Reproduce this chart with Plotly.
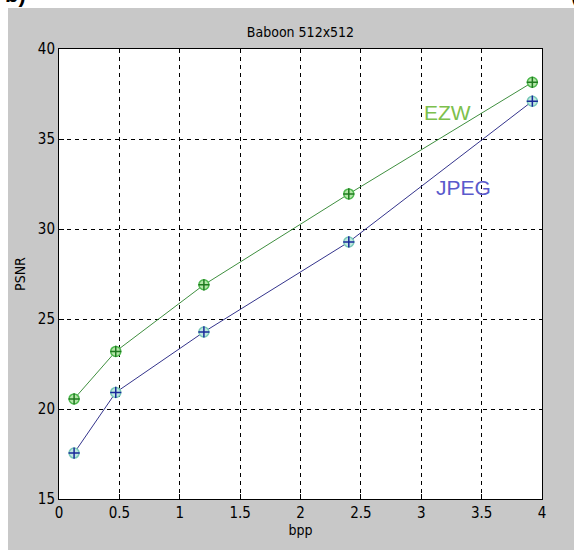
import plotly.graph_objects as go

bpp = [0.125, 0.47, 1.2, 2.4, 3.92]
ezw = [20.56, 23.2, 26.9, 31.95, 38.15]
jpeg = [17.55, 20.92, 24.28, 29.28, 37.1]
x_ticks = [0, 0.5, 1, 1.5, 2, 2.5, 3, 3.5, 4]
x_tick_text = ["0", "0.5", "1", "1.5", "2", "2.5", "3", "3.5", "4"]
y_ticks = [15, 20, 25, 30, 35, 40]

FONT = "Liberation Sans Narrow, DejaVu Sans Condensed, Arial Narrow, sans-serif"

fig = go.Figure()
# EZW
fig.add_trace(go.Scatter(x=bpp, y=ezw, mode="lines", line=dict(color="#3f8f3f", width=1)))
fig.add_trace(go.Scatter(x=bpp, y=ezw, mode="markers",
                         marker=dict(symbol="circle", size=10, color="#b4e6a8",
                                     line=dict(color="#4cb84c", width=1.5))))
fig.add_trace(go.Scatter(x=bpp, y=ezw, mode="markers",
                         marker=dict(symbol="cross-thin", size=8,
                                     line=dict(color="#1f7a1f", width=1.5))))
# JPEG
fig.add_trace(go.Scatter(x=bpp, y=jpeg, mode="lines", line=dict(color="#34348c", width=1)))
fig.add_trace(go.Scatter(x=bpp, y=jpeg, mode="markers",
                         marker=dict(symbol="circle", size=10, color="#c0e8e0",
                                     line=dict(color="#78c8b8", width=1.5))))
fig.add_trace(go.Scatter(x=bpp, y=jpeg, mode="markers",
                         marker=dict(symbol="cross-thin", size=8,
                                     line=dict(color="#1a2a9a", width=1.5))))

fig.add_annotation(x=3.22, y=36.5, text="EZW", showarrow=False,
                   font=dict(family="Liberation Sans, Arial, sans-serif", size=21, color="#7cc04c"))
fig.add_annotation(x=3.35, y=32.33, text="JPEG", showarrow=False,
                   font=dict(family="Liberation Sans, Arial, sans-serif", size=21, color="#5a5acc"))

# white strips at top and left (outside the gray figure region)
fig.add_shape(type="rect", xref="paper", yref="paper", x0=-0.2, x1=1.2,
              y0=1 + (49 - 8) / 450, y1=1.2, fillcolor="white", line_width=0, layer="above")
fig.add_shape(type="rect", xref="paper", yref="paper", x0=-0.2, x1=-51 / 483,
              y0=-0.2, y1=1.2, fillcolor="white", line_width=0, layer="above")
fig.add_annotation(xref="paper", yref="paper", x=-0.115, y=1 + 49 / 450 + 0.012,
                   xanchor="left", yanchor="middle", text="<b>b)</b>", showarrow=False,
                   font=dict(family="Liberation Sans, Arial", size=22, color="black"))
fig.add_annotation(xref="paper", yref="paper", x=1.055, y=1 + 49 / 450 + 0.012,
                   xanchor="left", yanchor="middle", text="<b>(</b>", showarrow=False,
                   font=dict(family="Liberation Sans, Arial", size=22, color="black"))

axis_common = dict(showline=True, linecolor="black", linewidth=1, mirror=True,
                   showgrid=True, gridcolor="black", gridwidth=1, griddash="4px,4px",
                   zeroline=False, ticks="inside", ticklen=5, tickcolor="black",
                   tickfont=dict(family=FONT, size=15, color="black"))

fig.update_xaxes(range=[0, 4], tickvals=x_ticks, ticktext=x_tick_text,
                 title=dict(text="bpp", font=dict(family=FONT, size=14, color="black"), standoff=4),
                 **axis_common)
fig.update_yaxes(range=[15, 40], tickvals=y_ticks,
                 title=dict(text="PSNR", font=dict(family=FONT, size=14, color="black"), standoff=8),
                 **axis_common)

fig.update_layout(
    width=574, height=550,
    margin=dict(l=59, r=32, t=49, b=51),
    paper_bgcolor="#c8c8c8", plot_bgcolor="white",
    showlegend=False,
    title=dict(text="Baboon 512x512", x=0.5, xref="paper", y=1 - 32 / 550, yanchor="middle",
               font=dict(family=FONT, size=14, color="black")),
)

fig.write_html("out.html")
